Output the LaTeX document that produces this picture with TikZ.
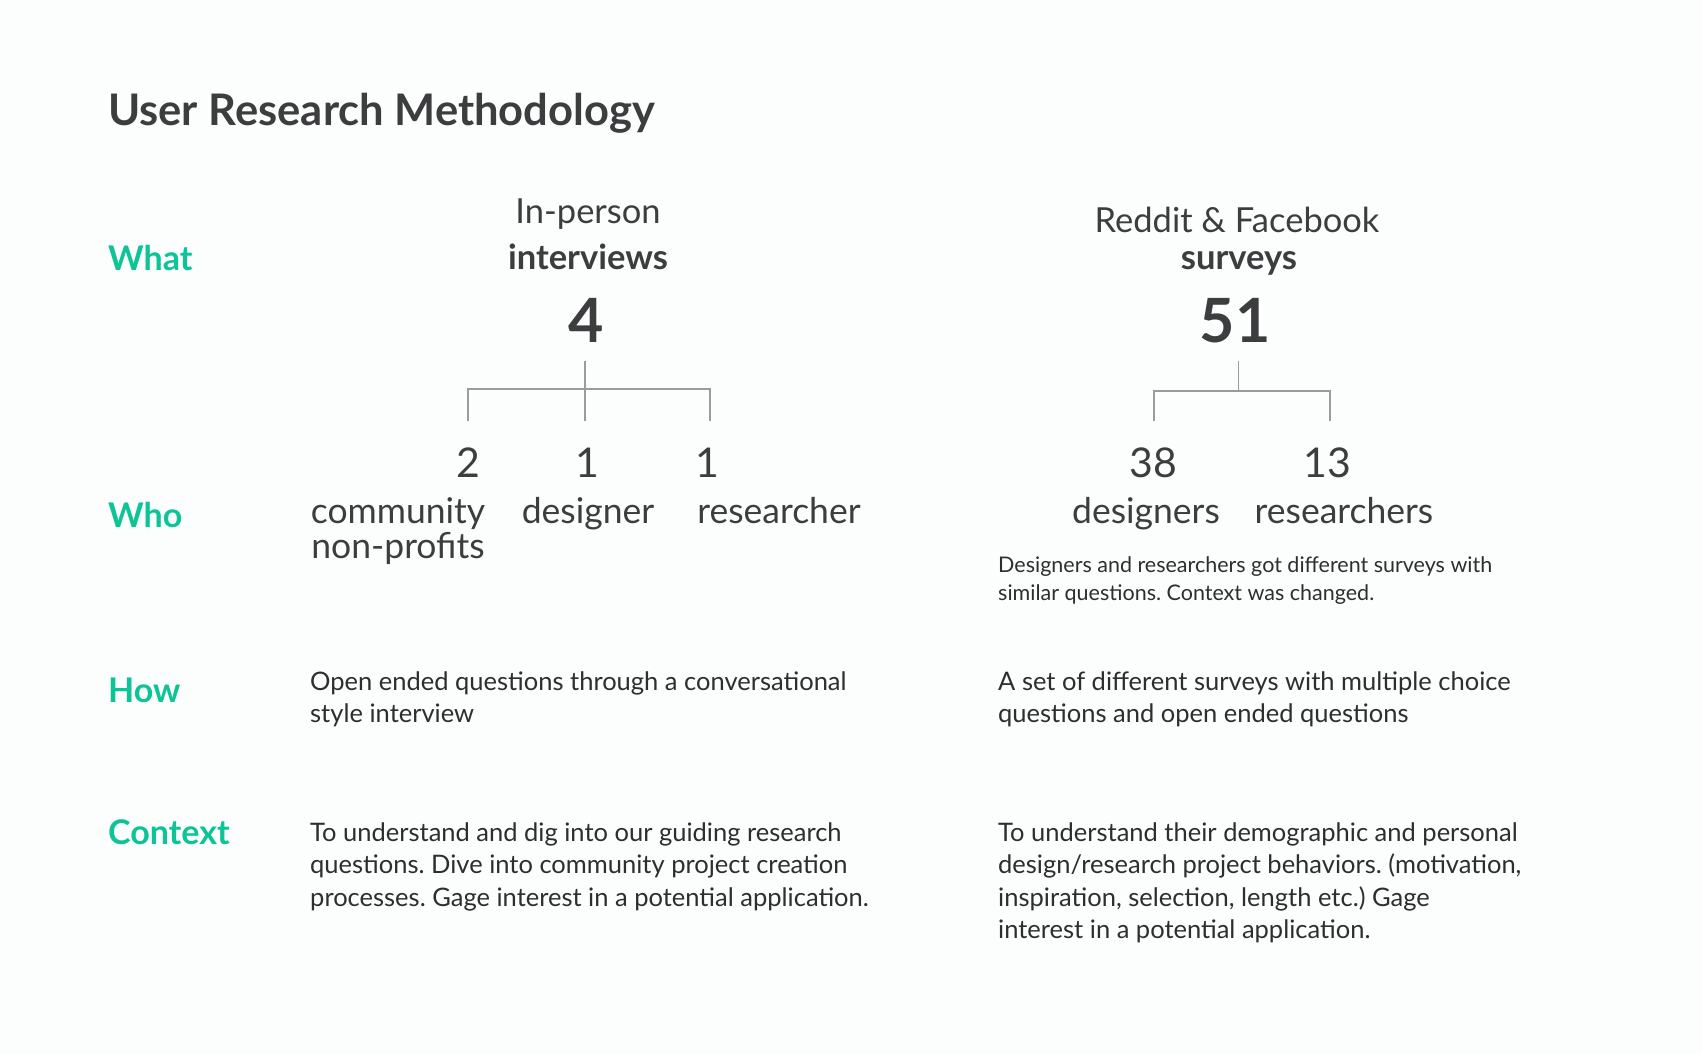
\documentclass[tikz,border=0pt]{standalone}
\usepackage{fontspec}
\setmainfont{Lato}
\usepackage{tikz}
\usetikzlibrary{positioning}
\frenchspacing

\definecolor{ink}{HTML}{3D3D3F}
\definecolor{bodyink}{HTML}{2E2E30}
\definecolor{mint}{HTML}{0CC496}
\definecolor{branchgray}{HTML}{9B9B9B}
\definecolor{paper}{HTML}{FBFEFD}

\tikzset{
  rowlabel/.style={anchor=base west, inner sep=0pt, text=mint, font=\fontsize{34}{40}\selectfont\bfseries},
  headtxt/.style={anchor=base, inner sep=0pt, text=ink, font=\fontsize{34.5}{40}\selectfont},
  headbold/.style={headtxt, font=\fontsize{34.5}{40}\selectfont\bfseries},
  bignum/.style={anchor=base, inner sep=0pt, text=ink, font=\fontsize{61}{68}\selectfont\bfseries},
  countnum/.style={anchor=base, inner sep=0pt, text=ink, font=\fontsize{41}{48}\selectfont},
  whotxt/.style={anchor=base, inner sep=0pt, text=ink, align=center, font=\fontsize{35.5}{35}\selectfont},
  bodytxt/.style={anchor=base west, inner sep=0pt, text=bodyink, align=left, font=\fontsize{25.5}{32.5}\selectfont},
  notetxt/.style={anchor=base west, inner sep=0pt, text=bodyink, align=left, font=\fontsize{21.5}{28}\selectfont},
  branch/.style={draw=branchgray, line width=1.6pt}
}

\begin{document}
\begin{tikzpicture}[x=1pt, y=-1pt]
  % page
  \fill[paper] (0,0) rectangle (1702,1054);
  \useasboundingbox (0,0) rectangle (1702,1054);

  % title and row labels
  \node[anchor=base west, inner sep=0pt, text=ink, font=\fontsize{43.5}{50}\selectfont\bfseries] (title) at (108,125) {User Research Methodology};
  \node[rowlabel] (what) at (108,270) {What};
  \node[rowlabel] (who) at (108,527) {Who};
  \node[rowlabel] (how) at (108,702) {How};
  \node[rowlabel] (context) at (108,844) {Context};

  % interviews
  \node[headtxt] (inperson) at (588,223) {In-person};
  \node[headbold] (interviews) at (588,269) {interviews};
  \node[bignum] (four) at (586,342) {4};

  \coordinate (stemA) at (585,361);
  \coordinate (barA) at (585,389);
  \coordinate (dropA1) at (468,421);
  \coordinate (dropA2) at (585,421);
  \coordinate (dropA3) at (710,421);
  \draw[branch] (stemA) -- (dropA2);
  \draw[branch] (dropA1) |- (barA) -| (dropA3);

  \node[countnum] (two) at (468,477) {2};
  \node[countnum] (oneA) at (587,477) {1};
  \node[countnum] (oneB) at (707,477) {1};
  % multi-line nodes sit on their last baseline
  \node[whotxt] (community) at (398,558) {community\\non-profits};
  \node[whotxt] (designer) at (588,523) {designer};
  \node[whotxt] (researcher) at (779,523) {researcher};

  % surveys
  \node[headtxt] (reddit) at (1237,232) {Reddit \& Facebook};
  \node[headbold] (surveys) at (1239,269) {surveys};
  \node[bignum] (fiftyone) at (1235,342) {51};

  \coordinate (stemB) at (1238.5,361);
  \coordinate (barB) at (1238.5,391);
  \coordinate (dropB1) at (1154,421);
  \coordinate (dropB2) at (1330,421);
  \draw[branch] (stemB) -- (barB);
  \draw[branch] (dropB1) |- (barB) -| (dropB2);

  \node[countnum] (thirtyeight) at (1153,477) {38};
  \node[countnum] (thirteen) at (1327,477) {13};
  \node[whotxt] (designers) at (1146,523) {designers};
  \node[whotxt] (researchers) at (1344,523) {researchers};
  \node[notetxt] (note) at (998,600) {Designers and researchers got different surveys with\\similar questions. Context was changed.};

  % how
  \node[bodytxt] (howA) at (310,722.5) {Open ended questions through a conversational\\style interview};
  \node[bodytxt] (howB) at (998,722.5) {A set of different surveys with multiple choice\\questions and open ended questions};

  % context
  \node[bodytxt] (ctxA) at (310,906) {To understand and dig into our guiding research\\questions. Dive into community project creation\\processes. Gage interest in a potential application.};
  \node[bodytxt] (ctxB) at (998,938.5) {To understand their demographic and personal\\design/research project behaviors. (motivation,\\inspiration, selection, length etc.) Gage\\interest in a potential application.};
\end{tikzpicture}
\end{document}
